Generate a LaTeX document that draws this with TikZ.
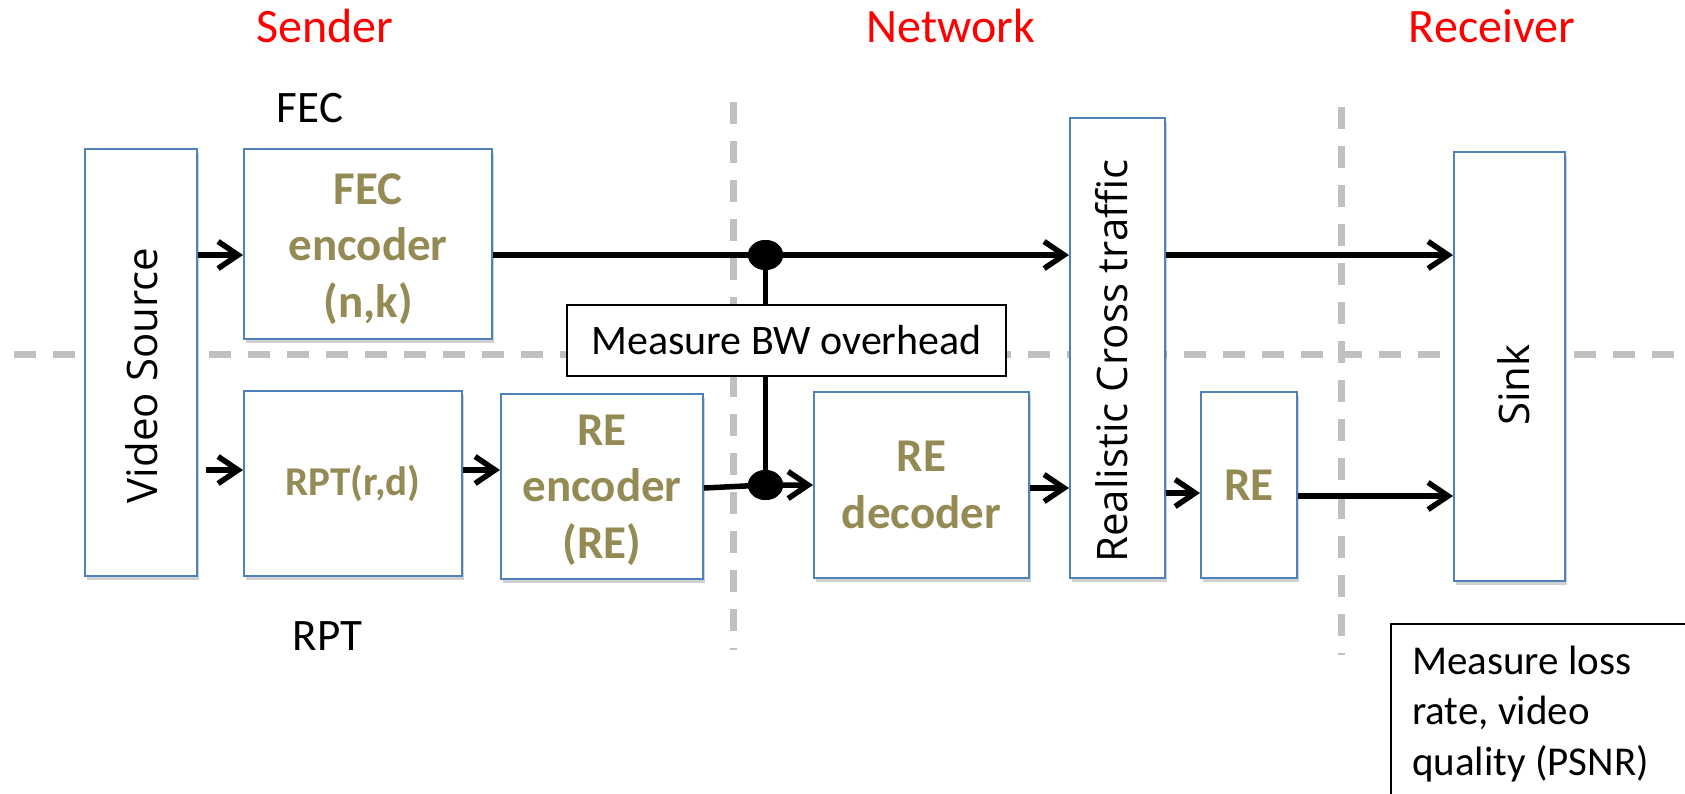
\documentclass[tikz,border=0pt]{standalone}
\usepackage{fontspec}
\setmainfont{Carlito}
\newfontfamily\rotfont{Open Sans}
\usetikzlibrary{arrows.meta,shadows,shapes.geometric}
\definecolor{boxblue}{HTML}{4F81BD}
\definecolor{olive}{HTML}{948A54}
\definecolor{dashgray}{HTML}{BFBFBF}
\begin{document}
\begin{tikzpicture}[x=1pt,y=-1pt,
  stagebox/.style={draw=boxblue, line width=2pt, fill=white, inner sep=0pt, align=center,
    drop shadow={shadow xshift=2pt, shadow yshift=-4pt, opacity=0.18, fill=black}},
  codec/.style={font=\fontsize{47}{56.5}\selectfont\bfseries, text=olive},
  rottext/.style={font=\rotfont\fontsize{42}{48}\selectfont, rotate=90, inner sep=0pt},
  plainbox/.style={draw=black, line width=2pt, fill=white, inner sep=0pt},
  conn/.style={line width=5.5pt, -{Straight Barb[length=20pt,width=27pt]}},
  link/.style={line width=5.5pt},
  guide/.style={dashgray, line width=7pt, dash pattern=on 22pt off 17pt},
  title/.style={text=red, font=\fontsize{48}{58}\selectfont, anchor=base, inner sep=0pt},
  tag/.style={font=\fontsize{45}{54}\selectfont, anchor=base, inner sep=0pt},
  junction/.style={ellipse, fill=black, minimum width=35pt, minimum height=30pt, inner sep=0pt}]
\useasboundingbox (0,0) rectangle (1685,793);
\clip (0,0) rectangle (1685,793);

% stage separators
\coordinate (gh1) at (14,354);   \coordinate (gh2) at (1685,354);
\coordinate (gv1) at (733.5,102); \coordinate (gv2) at (733.5,650);
\coordinate (gv3) at (1341,107);  \coordinate (gv4) at (1341,655);
\draw[guide] (gh1) -- (gh2);
\draw[guide] (gv1) -- (gv2);
\draw[guide] (gv3) -- (gv4);

% stage titles
\node[title] (tsend) at (325,42.7) {Sender};
\node[title] (tnet)  at (951,42.7) {Network};
\node[title] (trecv) at (1492,42.7) {Receiver};

% path labels
\node[tag] (lfec) at (310,122) {FEC};
\node[tag] (lrpt) at (327.5,650) {RPT};

% blocks
\node[stagebox, minimum width=112pt, minimum height=427pt] (src) at (141,362.5) {};
\node[stagebox, codec, minimum width=248pt, minimum height=190pt] (fec) at (368,244) {};
\node[codec, align=center, inner sep=0pt] (fectxt) at (368,249) {FEC\\encoder\\(n,k)};
\node[stagebox, minimum width=218pt, minimum height=185pt, font=\fontsize{41}{49}\selectfont\bfseries, text=olive] (rpt) at (353,483.5) {RPT(r,d)};
\node[stagebox, codec, minimum width=202pt, minimum height=185pt] (ree) at (602,486.5) {};
\node[codec, align=center, inner sep=0pt] (reetxt) at (602,490) {RE\\encoder\\(RE)};
\node[stagebox, codec, minimum width=215pt, minimum height=186pt] (red) at (921.5,485) {RE\\decoder};
\node[stagebox, minimum width=95pt, minimum height=460pt] (rct) at (1117.5,348) {};
\node[stagebox, codec, minimum width=96pt, minimum height=186pt] (re) at (1249,485) {RE};
\node[stagebox, minimum width=111pt, minimum height=429pt] (sink) at (1509.5,366.5) {};

\node[rottext] (srctxt) at (141.6,375.5) {Video Source};
\node[rottext] (rcttxt) at (1112,361) {Realistic Cross traffic};
\node[rottext] (sinktxt) at (1514,385) {Sink};

% measurement points
\node[junction] (dot1) at (765.5,255) {};
\node[junction] (dot2) at (765.5,485) {};
\node[plainbox, minimum width=439pt, minimum height=71pt, font=\fontsize{42}{50}\selectfont] (bw) at (786.5,340.5) {Measure BW overhead};
\draw[link] (dot1.center) -- (bw.north -| dot1);
\draw[link] (bw.south -| dot2) -- (dot2.center);

\node[plainbox, anchor=north west, minimum width=330pt, minimum height=200pt] (loss) at (1390,623) {};
\node[anchor=north west, inner sep=0pt, align=left, font=\fontsize{41}{50.5}\selectfont] (losstxt) at (1412,640)
  {\rule{0pt}{34pt}Measure loss\\rate, video\\quality (PSNR)};

% flows
\coordinate (rowA) at (0,488);
\coordinate (rowB) at (0,493);
\coordinate (rowC) at (0,496);
\coordinate (rowL) at (0,470);
\draw[conn] (src.east |- dot1) -- (fec.west |- dot1);
\draw[conn] (fec.east |- dot1) -- (rct.west |- dot1);
\draw[conn] (rct.east |- dot1) -- (sink.west |- dot1);
\draw[conn, shorten <=8pt] (src.east |- rowL) -- (rpt.west |- rowL);
\draw[conn] (rpt.east |- rowL) -- (ree.west |- rowL);
\draw[conn] (ree.east |- rowA) -- (dot2.center) -- (red.west |- dot2);
\draw[conn] (red.east |- rowA) -- (rct.west |- rowA);
\draw[conn] (rct.east |- rowB) -- (re.west |- rowB);
\draw[conn] (re.east |- rowC) -- (sink.west |- rowC);

% junction dots on top of the lines
\node[junction] at (dot1) {};
\node[junction] at (dot2) {};
\end{tikzpicture}
\end{document}
